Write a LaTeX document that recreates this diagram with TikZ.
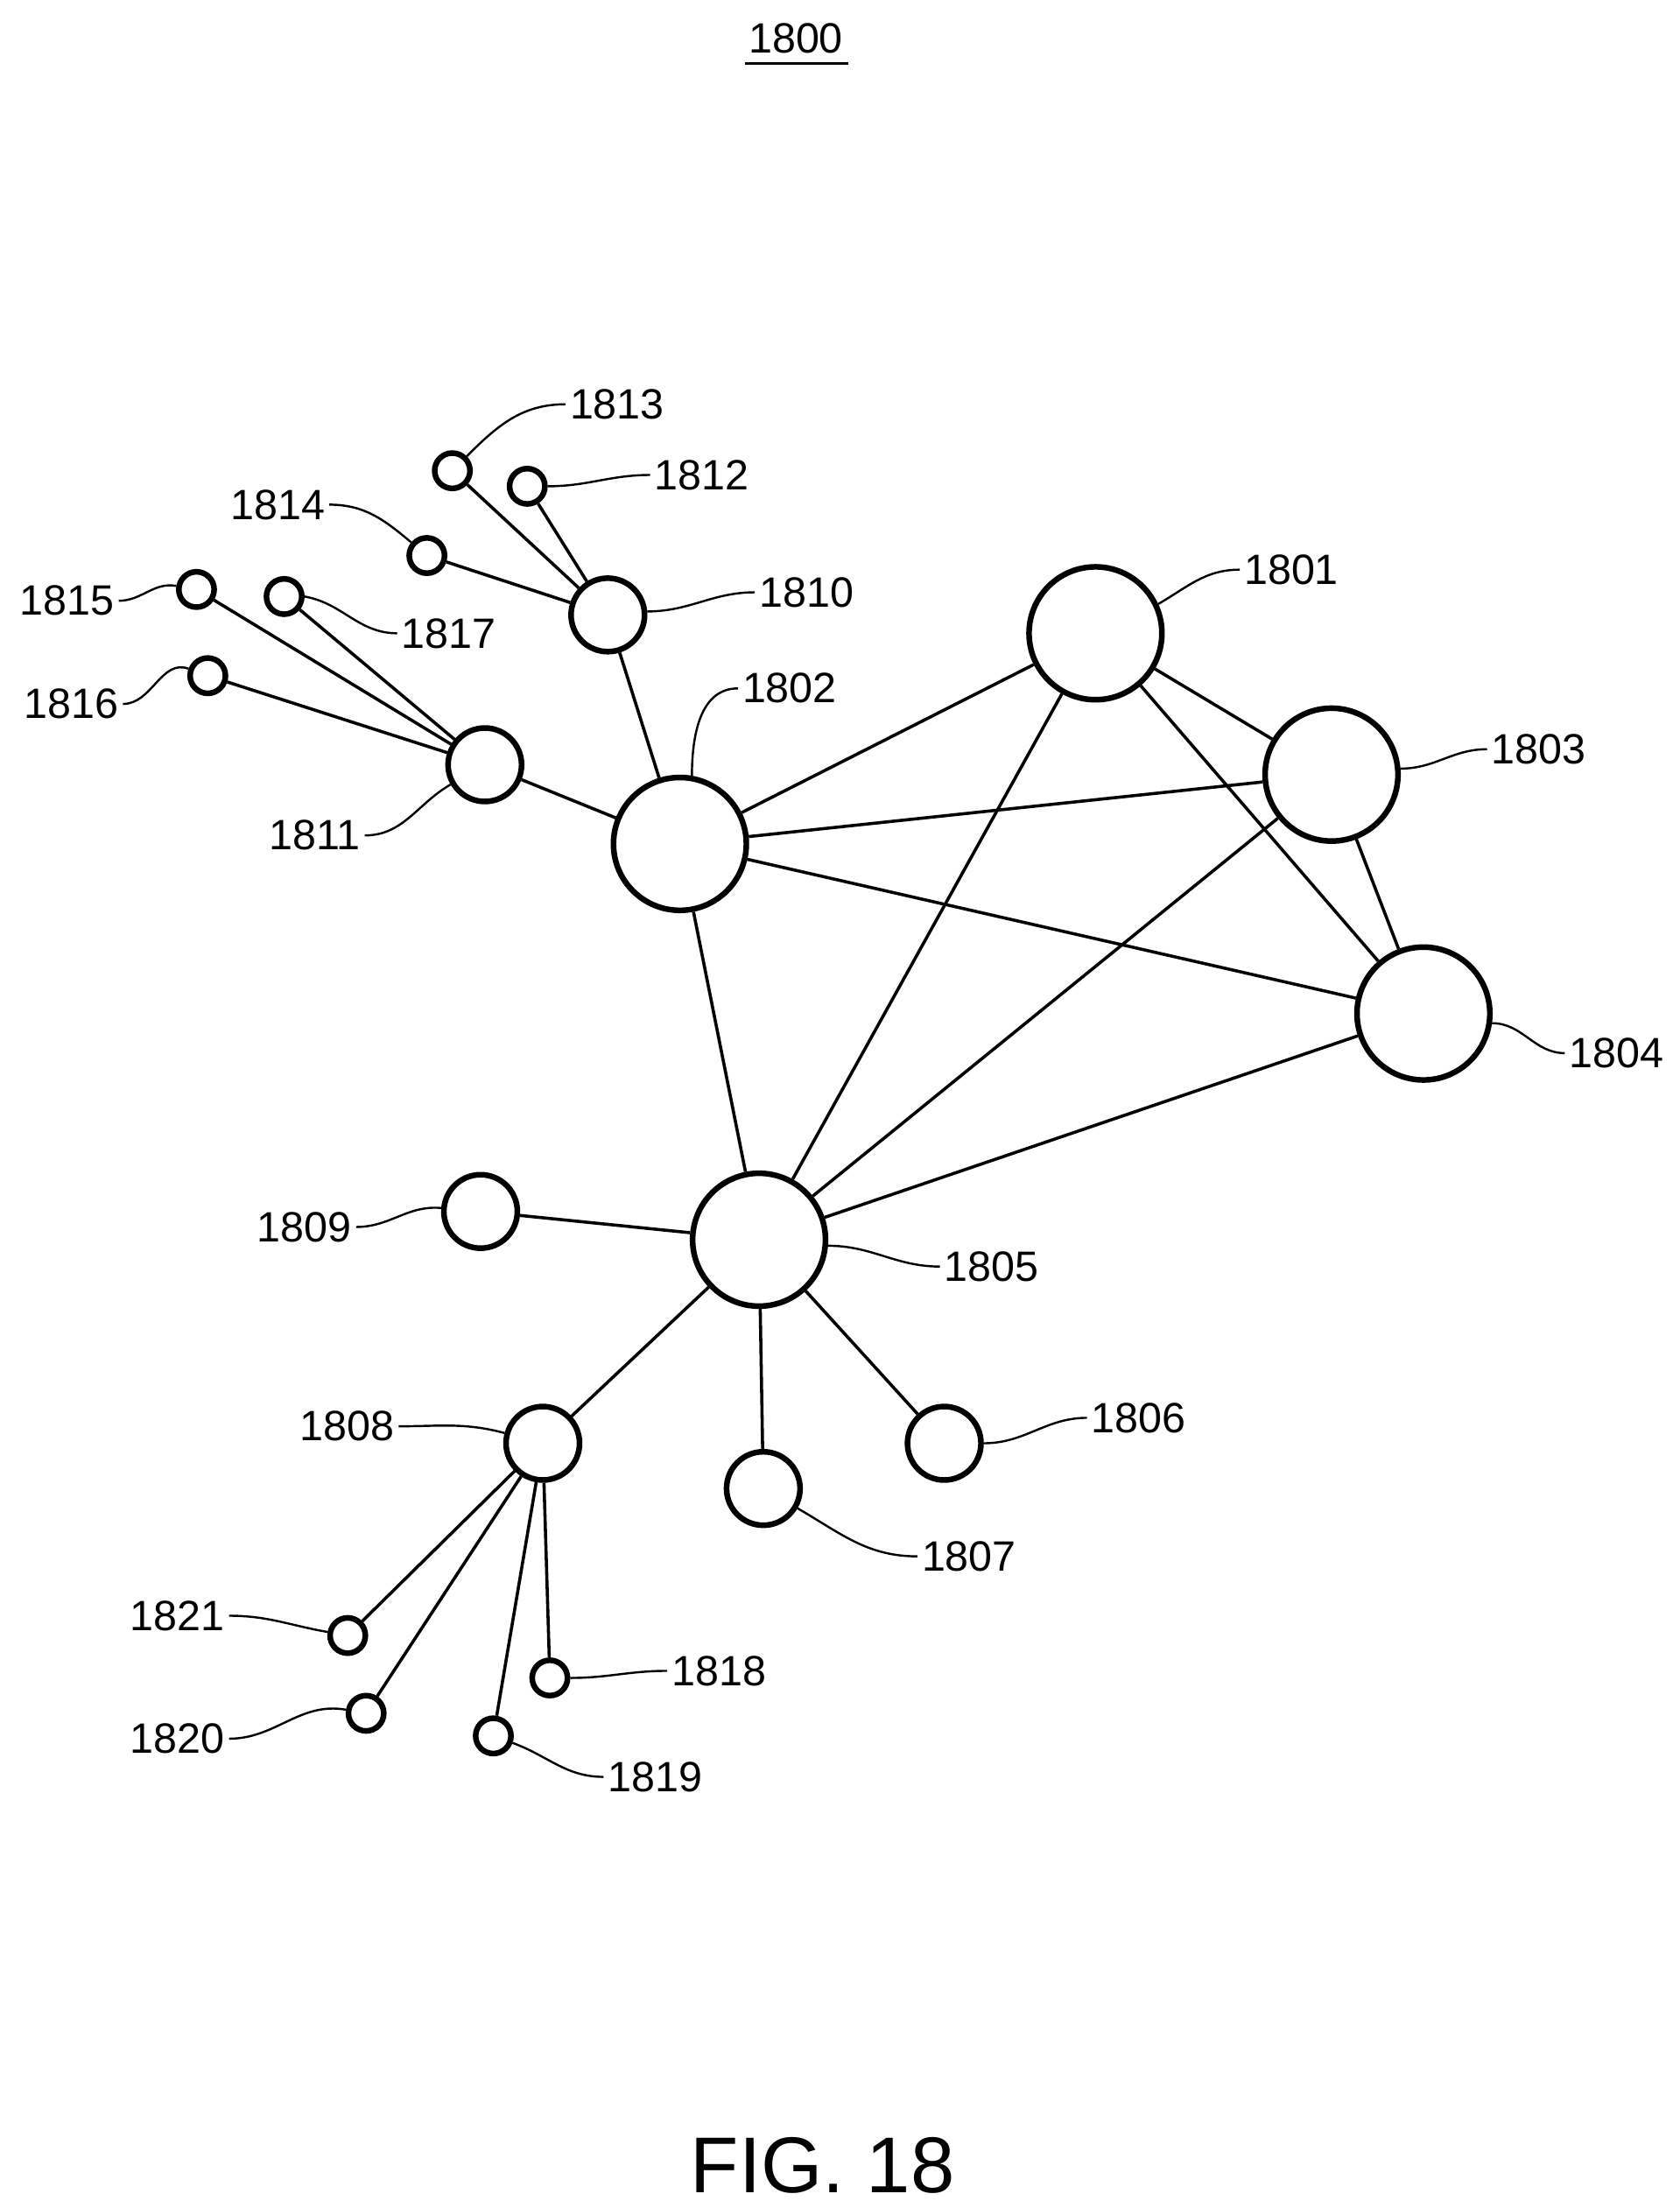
\documentclass[tikz,border=0pt]{standalone}
\usepackage{fontspec}
\setmainfont{Liberation Sans}
\begin{document}
\begin{tikzpicture}[x=1pt,y=-1pt,
  big/.style={circle,draw,line width=4pt,minimum size=94pt,inner sep=0pt},
  mid/.style={circle,draw,line width=4pt,minimum size=52pt,inner sep=0pt},
  sml/.style={circle,draw,line width=4pt,minimum size=25pt,inner sep=0pt},
  lbl/.style={font=\fontsize{30}{32}\selectfont,inner sep=3pt},
  edge/.style={line width=2.2pt},
  lead/.style={line width=1.5pt}]
\useasboundingbox (0,0) rectangle (1188,1562);
\node[lbl] (title) at (563,27) {1800};
\draw[line width=2pt] (527,45) -- (600,45);
\node[font=\fontsize{56}{60}\selectfont] (fig) at (582,1532) {FIG. 18};
% nodes
\node[big] (n1801) at (775,448) {};
\node[big] (n1802) at (481,597) {};
\node[big] (n1803) at (942,548) {};
\node[big] (n1804) at (1007,717) {};
\node[big] (n1805) at (537,877) {};
\node[mid] (n1806) at (668,1021) {};
\node[mid] (n1807) at (540,1053) {};
\node[mid] (n1808) at (384,1021) {};
\node[mid] (n1809) at (340,857) {};
\node[mid] (n1810) at (430,435) {};
\node[mid] (n1811) at (343,541) {};
\node[sml] (n1812) at (373,344) {};
\node[sml] (n1813) at (320,333) {};
\node[sml] (n1814) at (302,393) {};
\node[sml] (n1815) at (139,417) {};
\node[sml] (n1816) at (147,478) {};
\node[sml] (n1817) at (201,422) {};
\node[sml] (n1818) at (389,1187) {};
\node[sml] (n1819) at (349,1228) {};
\node[sml] (n1820) at (259,1212) {};
\node[sml] (n1821) at (246,1157) {};
% edges
\foreach \a/\b in {1801/1802,1801/1803,1801/1805,1801/1804,1802/1803,1802/1804,1802/1805,1802/1810,1802/1811,1803/1804,1803/1805,1804/1805,1805/1809,1805/1808,1805/1807,1805/1806,1808/1818,1808/1819,1808/1820,1808/1821,1810/1812,1810/1813,1810/1814,1811/1815,1811/1816,1811/1817}
  \draw[edge] (n\a) -- (n\b);
% labels
\node[lbl,anchor=west] (l1801) at (877,403) {1801};
\node[lbl,anchor=west] (l1802) at (522,487) {1802};
\node[lbl,anchor=west] (l1803) at (1052,530) {1803};
\node[lbl,anchor=west] (l1804) at (1107,745) {1804};
\node[lbl,anchor=west] (l1805) at (665,896) {1805};
\node[lbl,anchor=west] (l1806) at (769,1003) {1806};
\node[lbl,anchor=west] (l1807) at (649,1101) {1807};
\node[lbl,anchor=east] (l1808) at (282,1009) {1808};
\node[lbl,anchor=east] (l1809) at (252,868) {1809};
\node[lbl,anchor=west] (l1810) at (534,419) {1810};
\node[lbl,anchor=east] (l1811) at (258,591) {1811};
\node[lbl,anchor=west] (l1812) at (460,336) {1812};
\node[lbl,anchor=west] (l1813) at (400,286) {1813};
\node[lbl,anchor=east] (l1814) at (233,357) {1814};
\node[lbl,anchor=east] (l1815) at (84,425) {1815};
\node[lbl,anchor=east] (l1816) at (87,498) {1816};
\node[lbl,anchor=west] (l1817) at (281,448) {1817};
\node[lbl,anchor=west] (l1818) at (472,1182) {1818};
\node[lbl,anchor=west] (l1819) at (427,1257) {1819};
\node[lbl,anchor=east] (l1820) at (162,1230) {1820};
\node[lbl,anchor=east] (l1821) at (162,1143) {1821};
% leaders
\draw[lead] (n1801.25) to[out=30,in=180] (l1801.west);
\draw[lead] (n1802.80) to[out=90,in=180] (l1802.west);
\draw[lead] (n1803.5) to[out=0,in=180] (l1803.west);
\draw[lead] (n1804.-8) to[out=0,in=180] (l1804.west);
\draw[lead] (n1805.-5) to[out=0,in=180] (l1805.west);
\draw[lead] (n1806.0) to[out=0,in=180] (l1806.west);
\draw[lead] (n1807.-30) to[out=-30,in=180] (l1807.west);
\draw[lead] (l1808.east) to[out=0,in=165] (n1808.165);
\draw[lead] (l1809.east) to[out=0,in=175] (n1809.175);
\draw[lead] (n1810.5) to[out=0,in=180] (l1810.west);
\draw[lead] (l1811.east) to[out=0,in=-150] (n1811.-150);
\draw[lead] (n1812.0) to[out=0,in=180] (l1812.west);
\draw[lead] (n1813.45) to[out=45,in=180] (l1813.west);
\draw[lead] (l1814.east) to[out=0,in=140] (n1814.140);
\draw[lead] (l1815.east) to[out=0,in=170] (n1815.170);
\draw[lead] (l1816.east) to[out=0,in=160] (n1816.160);
\draw[lead] (n1817.0) to[out=-10,in=180] (l1817.west);
\draw[lead] (n1818.0) to[out=0,in=180] (l1818.west);
\draw[lead] (n1819.-20) to[out=-20,in=180] (l1819.west);
\draw[lead] (l1820.east) to[out=0,in=170] (n1820.170);
\draw[lead] (l1821.east) to[out=0,in=170] (n1821.170);
\end{tikzpicture}
\end{document}
